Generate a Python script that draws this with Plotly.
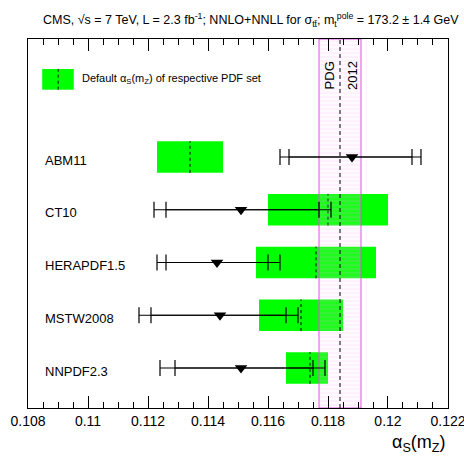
import plotly.graph_objects as go

# ---------------- data ----------------
pdf_sets = ["ABM11", "CT10", "HERAPDF1.5", "MSTW2008", "NNPDF2.3"]
row_pos = [5, 4, 3, 2, 1]
default_as = [0.1134, 0.1180, 0.1176, 0.1171, 0.1174]
default_lo = [0.1123, 0.1160, 0.1156, 0.1157, 0.1166]
default_hi = [0.1145, 0.1200, 0.1196, 0.1185, 0.1180]
extracted = [0.1188, 0.1151, 0.1143, 0.1144, 0.1151]
inner_lo = [0.1167, 0.1126, 0.1126, 0.1121, 0.1129]
inner_hi = [0.1208, 0.1177, 0.1160, 0.1166, 0.1175]
outer_lo = [0.1164, 0.1122, 0.1123, 0.1117, 0.1124]
outer_hi = [0.1211, 0.1181, 0.1164, 0.1170, 0.1179]
pdg_value = 0.1184
pdg_err = 0.0007
x_ticks = [0.108, 0.110, 0.112, 0.114, 0.116, 0.118, 0.120, 0.122]
x_ticktext = ["0.108", "0.11", "0.112", "0.114", "0.116", "0.118", "0.12", "0.122"]

FONT = "Liberation Sans, Arial, sans-serif"
YMIN, YMAX = 0.242, 7.237
BOX_H = 0.6

fig = go.Figure()

# green boxes: default alpha_s of PDF sets
fig.add_trace(go.Bar(
    orientation="h", y=row_pos,
    x=[h - l for h, l in zip(default_hi, default_lo)], base=default_lo,
    width=BOX_H, marker=dict(color="#00ff00", line=dict(width=0)),
    hoverinfo="skip"))

# dotted central default lines
dx, dy = [], []
for v, p in zip(default_as, row_pos):
    dx += [v, v, None]
    dy += [p - BOX_H / 2, p + BOX_H / 2, None]
fig.add_trace(go.Scatter(x=dx, y=dy, mode="lines",
                         line=dict(color="black", width=1, dash="dot"),
                         hoverinfo="skip"))

# PDG band
blo, bhi = pdg_value - pdg_err, pdg_value + pdg_err
fig.add_trace(go.Scatter(
    x=[blo, bhi, bhi, blo, blo], y=[YMIN, YMIN, YMAX, YMAX, YMIN],
    mode="lines", fill="toself",
    fillcolor="rgba(255,200,255,0.15)",
    fillpattern=dict(shape="-", fgcolor="rgba(240,170,240,0.45)",
                     bgcolor="rgba(255,220,255,0.12)", size=4, solidity=0.25),
    line=dict(color="#e050e0", width=1), hoverinfo="skip"))
fig.add_trace(go.Scatter(x=[pdg_value, pdg_value], y=[YMIN, YMAX], mode="lines",
                         line=dict(color="black", width=1, dash="4px,3px"),
                         hoverinfo="skip"))

# outer error bars
fig.add_trace(go.Scatter(
    x=extracted, y=row_pos, mode="markers",
    marker=dict(size=1, color="rgba(0,0,0,0)"),
    error_x=dict(type="data", symmetric=False,
                 array=[h - c for h, c in zip(outer_hi, extracted)],
                 arrayminus=[c - l for c, l in zip(extracted, outer_lo)],
                 color="black", thickness=1.2, width=8),
    hoverinfo="skip"))
# inner error bars + triangles
fig.add_trace(go.Scatter(
    x=extracted, y=row_pos, mode="markers",
    marker=dict(symbol="triangle-down", size=11, color="black"),
    error_x=dict(type="data", symmetric=False,
                 array=[h - c for h, c in zip(inner_hi, extracted)],
                 arrayminus=[c - l for c, l in zip(extracted, inner_lo)],
                 color="black", thickness=1.2, width=8),
    hoverinfo="skip"))

annotations = []
for name, p in zip(pdf_sets, row_pos):
    annotations.append(dict(x=0.036, xref="paper", y=p - 0.06, yref="y",
                            text=name, showarrow=False, xanchor="left",
                            yanchor="middle", font=dict(family=FONT, size=13, color="black")))

annotations += [
    dict(x=0.123, xref="paper", y=6.47, yref="y",
         text="Default α<sub>S</sub>(m<sub>Z</sub>) of respective PDF set",
         showarrow=False, xanchor="left", yanchor="middle",
         font=dict(family=FONT, size=11, color="black")),
    dict(x=0.11808, y=6.555, text="PDG", textangle=-90, showarrow=False,
         font=dict(family=FONT, size=13, color="black")),
    dict(x=0.11883, y=6.555, text="2012", textangle=-90, showarrow=False,
         font=dict(family=FONT, size=13, color="black")),
    dict(x=0.531, xref="paper", y=1.052, yref="paper",
         text="CMS, √s = 7 TeV, L = 2.3 fb<sup>-1</sup>; NNLO+NNLL for σ<sub>tt̄</sub>; "
              "m<sub>t</sub><sup>pole</sup> = 173.2 ± 1.4 GeV",
         showarrow=False, xanchor="center", yanchor="middle",
         font=dict(family=FONT, size=12.5, color="black")),
    dict(x=1.0, xref="paper", y=-0.095, yref="paper",
         text="α<sub>S</sub>(m<sub>Z</sub>)", showarrow=False,
         xanchor="right", yanchor="middle",
         font=dict(family=FONT, size=18, color="black")),
]

shapes = [
    dict(type="rect", xref="paper", yref="paper", x0=0.0338, x1=0.109,
         y0=0.8626, y1=0.9187, fillcolor="#00ff00", line=dict(width=0)),
    dict(type="line", xref="paper", yref="paper", x0=0.0718, x1=0.0718,
         y0=0.8626, y1=0.9187, line=dict(color="black", width=1, dash="dot")),
]

fig.update_layout(
    width=464, height=462,
    margin=dict(l=27.5, r=16, t=39, b=54, autoexpand=False),
    paper_bgcolor="white", plot_bgcolor="white",
    showlegend=False, barmode="overlay",
    annotations=annotations, shapes=shapes,
    xaxis=dict(range=[0.108, 0.1220002], tickvals=x_ticks, ticktext=x_ticktext,
               automargin=False, ticklabeloverflow="allow",
               ticks="inside", ticklen=12, tickwidth=1, tickcolor="black",
               minor=dict(dtick=0.0005, ticks="inside", ticklen=6,
                          tickcolor="black", tickwidth=1, showgrid=False),
               showline=True, linecolor="black", linewidth=1, mirror="allticks",
               showgrid=False, zeroline=False,
               tickfont=dict(family=FONT, size=14, color="black")),
    yaxis=dict(range=[YMIN, YMAX], showticklabels=False, ticks="",
               automargin=False,
               showline=True, linecolor="black", linewidth=1, mirror=True,
               showgrid=False, zeroline=False),
)

fig.write_html("out.html", config={"displayModeBar": False},
               post_script="document.body.style.margin='0';document.body.style.overflow='hidden';")
